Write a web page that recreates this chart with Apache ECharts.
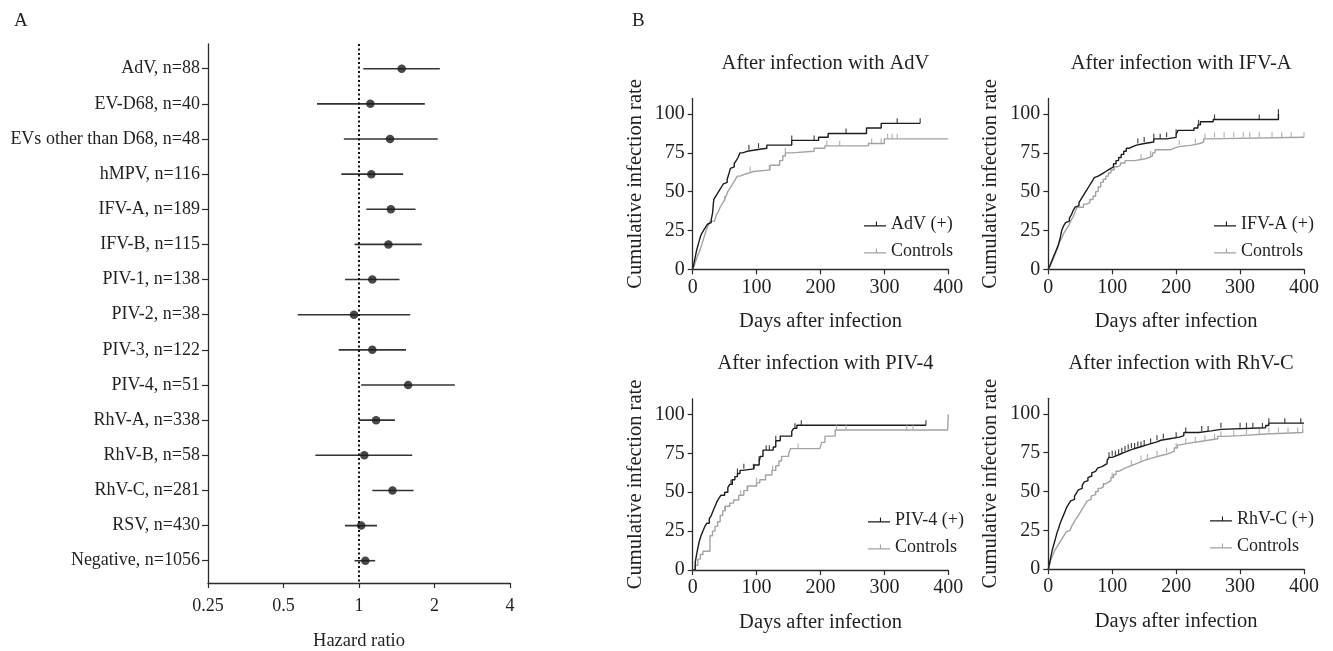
<!DOCTYPE html>
<html>
<head>
<meta charset="utf-8">
<script src="https://cdn.jsdelivr.net/npm/echarts@6/dist/echarts.min.js"></script>
<style>
html,body{margin:0;padding:0;background:#fff;}
#chart{width:1333px;height:651px;}
</style>
</head>
<body>
<div id="chart"></div>
<script>
// ---------- Panel A: forest plot data ----------
const hrCategories = ['AdV, n=88','EV-D68, n=40','EVs other than D68, n=48','hMPV, n=116','IFV-A, n=189','IFV-B, n=115','PIV-1, n=138','PIV-2, n=38','PIV-3, n=122','PIV-4, n=51','RhV-A, n=338','RhV-B, n=58','RhV-C, n=281','RSV, n=430','Negative, n=1056'];
const hrPoint = [1.48, 1.11, 1.33, 1.12, 1.34, 1.31, 1.13, 0.955, 1.13, 1.57, 1.17, 1.05, 1.36, 1.02, 1.06];
const hrLower = [1.04, 0.68, 0.87, 0.85, 1.07, 0.96, 0.88, 0.57, 0.83, 1.02, 1.00, 0.67, 1.13, 0.88, 0.96];
const hrUpper = [2.10, 1.83, 2.06, 1.50, 1.68, 1.78, 1.45, 1.60, 1.54, 2.41, 1.39, 1.63, 1.65, 1.18, 1.16];
const hrTicks = [0.25, 0.5, 1, 2, 4];

// ---------- Panel B: Kaplan-Meier style cumulative curves ----------
const kmTicksX = [0, 100, 200, 300, 400];
const kmTicksY = [0, 25, 50, 75, 100];

const advPos = [[0,0],[2,4],[4,8],[6,12],[8,15],[10,18],[12,21],[14,23],[17,25],[20,27],[23,29],[26,30],[29,32],[31,36],[33,45],[36,47],[39,49],[42,51],[45,53],[48,55],[51,56],[54,58],[57,62],[59,65],[62,66],[65,68],[68,70],[71,72],[74,75],[78,76],[85,77],[100,78],[116,80],[155,83],[197,85],[212,87.5],[272,91],[295,94],[356,94]];
const advPosCens = [88,103,155,190,240,320,356];
const advCtl = [[0,0],[3,3],[6,7],[9,10],[12,13],[15,17],[18,21],[21,25],[24,28],[27,31],[34,32],[37,35],[40,37],[43,40],[46,42],[49,44],[52,47],[55,50],[58,52],[61,54],[64,56],[67,58],[70,60],[74,61],[80,62],[88,63],[95,64],[121,67],[136,70],[141,73],[145,75],[155,76],[190,78],[207,79.5],[275,81],[300,84],[400,84]];
const advCtlCens = [50,90,120,145,210,230,280,295,305,312,320];

const ifvPos = [[0,0],[3,3],[6,6],[9,9],[12,12],[15,15],[18,19],[21,25],[24,28],[27,30],[30,31],[33,33],[36,35],[39,38],[42,40],[45,41],[48,43],[51,45],[54,47],[57,49],[60,51],[63,53],[66,55],[69,57],[72,59],[75,60],[78,61],[82,62],[86,63],[90,64],[94,65],[98,66],[102,68],[106,70],[110,72],[114,74],[118,76],[122,78],[127,79],[132,80],[138,81],[150,82],[165,84],[185,85],[200,87],[203,89.5],[228,91],[234,93],[238,95],[258,96.5],[360,100]];
const ifvPosCens = [140,150,165,175,185,200,235,260,330,360];
const ifvCtl = [[0,0],[3,2],[6,5],[9,8],[12,11],[15,14],[18,18],[21,20],[24,23],[27,25],[30,27],[33,29],[36,32],[39,34],[42,37],[45,40],[55,42],[60,43],[65,45],[70,47],[74,50],[78,53],[82,56],[86,58],[90,60],[94,62],[98,64],[103,66],[108,67],[113,68.5],[120,70],[135,71],[150,72],[158,73],[163,75],[167,77],[192,78],[197,79],[205,80],[225,81],[237,82],[243,84],[248,85],[400,85]];
const ifvCtlCens = [145,160,205,230,245,260,275,290,305,315,330,350,365,380,400];

const pivPos = [[0,0],[4,5],[7,12],[10,18],[13,22],[16,25],[19,28],[22,30],[26,33],[29,35],[32,38],[35,41],[38,44],[41,46],[44,48],[50,50],[55,53],[58,55],[62,58],[66,60],[70,62],[74,64],[78,65],[96,67.5],[104,70],[106,73],[110,77],[126,79],[130,83],[137,86],[155,89],[158,91],[163,93],[365,93]];
const pivPosCens = [60,70,80,95,104,115,120,130,160,170,365];
const pivCtl = [[0,0],[4,3],[8,7],[12,10],[16,12],[27,22],[31,25],[35,28],[39,31],[43,35],[47,38],[51,41],[58,43],[64,45],[72,48],[80,51],[86,54],[100,56],[105,58],[114,61],[124,64],[130,67],[135,70],[139,73],[150,74.5],[153,78],[199,78],[202,82],[207,86],[223,90],[399,90],[400,100]];
const pivCtlCens = [50,75,85,100,125,165,225,240,335,345];

const rhvPos = [[0,0],[2,4],[4,8],[6,12],[8,15],[10,18],[12,21],[14,24],[16,26],[18,29],[20,31],[23,34],[26,37],[29,40],[32,42],[35,44],[38,45],[41,47],[44,49],[47,51],[50,52],[53,54],[56,56],[59,57],[62,59],[65,60],[68,62],[71,63],[74,64],[77,65],[80,66],[84,67],[88,68],[92,70],[95,72],[100,73],[106,74],[112,75],[118,76],[124,77],[130,78],[138,79],[146,80],[154,81],[162,82],[170,83],[176,84],[190,85],[205,86],[212,88],[235,89],[255,90],[270,91],[340,92.5],[345,94],[400,94]];
const rhvPosCens = [95,100,105,110,115,120,125,130,135,140,145,150,160,170,180,200,215,240,250,270,300,310,320,335,345,370,395];
const rhvCtl = [[0,0],[2,3],[4,6],[6,8],[8,10],[10,12],[13,14],[16,16],[19,18],[22,20],[25,22],[28,24],[31,25],[34,26],[37,28],[40,30],[43,32],[46,34],[49,36],[52,38],[55,40],[58,42],[61,44],[64,45],[67,47],[70,48],[74,50],[78,52],[82,53],[86,55],[90,56],[94,57],[98,59],[102,61],[106,63],[110,64],[115,65],[120,66],[126,67],[132,68],[138,69],[144,70],[150,71],[158,72],[166,73],[175,74],[185,75],[192,76],[197,78],[202,80],[206,81],[218,82],[235,83],[250,84],[265,85.5],[275,86],[300,87],[340,88],[398,90]];
const rhvCtlCens = [100,130,145,155,170,185,200,215,230,245,260,270,290,310,330,345,360,375,390,398];

const panels = [
  {title:'After infection with AdV', pos:'AdV (+)', posData:advPos, posCens:advPosCens, ctlData:advCtl, ctlCens:advCtlCens},
  {title:'After infection with IFV-A', pos:'IFV-A (+)', posData:ifvPos, posCens:ifvPosCens, ctlData:ifvCtl, ctlCens:ifvCtlCens},
  {title:'After infection with PIV-4', pos:'PIV-4 (+)', posData:pivPos, posCens:pivPosCens, ctlData:pivCtl, ctlCens:pivCtlCens},
  {title:'After infection with RhV-C', pos:'RhV-C (+)', posData:rhvPos, posCens:rhvPosCens, ctlData:rhvCtl, ctlCens:rhvCtlCens}
];

// ---------- layout / style ----------
const FONT = 'Liberation Serif';
const TXT = '#231f20';
const AX = '#2b2b2b';
const BLACK = '#1c1c1c';
const GRAY = '#a3a3a3';

const kmGrids = [
  {left:692.7, top:98.5, width:255.6, height:170.8, outerBoundsMode:'none'},
  {left:1048.3, top:98.5, width:255.7, height:170.8, outerBoundsMode:'none'},
  {left:692.7, top:398.8, width:255.6, height:171.2, outerBoundsMode:'none'},
  {left:1048.3, top:398.3, width:255.7, height:170.9, outerBoundsMode:'none'}
];
const legendPos = [
  {left:864, top:215},
  {left:1214, top:215},
  {left:868, top:511},
  {left:1210, top:510}
];

function stepValue(curve, d){
  let v = curve[0][1];
  for (const p of curve){ if (p[0] <= d) v = p[1]; }
  return v;
}

const legendIcon = 'path://M0,9L24,9L24,10.2L0,10.2Z M13,5L14.2,5L14.2,9L13,9Z';

const grids = [
  {left:208, top:44, width:302, height:539, outerBoundsMode:'none'},
  {left:208, top:51.13, width:302, height:527.1, outerBoundsMode:'none'}
];
const xAxes = [
  {gridIndex:0, type:'log', logBase:2, min:0.25, max:4, position:'bottom',
   axisLine:{onZero:false, lineStyle:{color:AX, width:1.3}},
   axisTick:{length:5, lineStyle:{color:AX, width:1.2}},
   axisLabel:{fontFamily:FONT, fontSize:18, color:TXT, margin:14, formatter:v=>String(v)},
   splitLine:{show:false},
   name:'Hazard ratio', nameLocation:'middle', nameGap:49,
   nameTextStyle:{fontFamily:FONT, fontSize:18.5, color:TXT}},
  {gridIndex:1, type:'value', min:0, max:1, show:false}
];
const yAxes = [
  {gridIndex:0, type:'value', inverse:true, min:-0.703, max:14.634,
   axisLine:{show:true, onZero:false, lineStyle:{color:AX, width:1.3}},
   axisTick:{show:false}, axisLabel:{show:false}, splitLine:{show:false}},
  {gridIndex:1, type:'category', inverse:true, data:hrCategories,
   axisLine:{show:false},
   axisTick:{show:true, alignWithLabel:true, length:6, lineStyle:{color:AX, width:1.2}},
   axisLabel:{fontFamily:FONT, fontSize:18, color:TXT, margin:8},
   splitLine:{show:false}}
];

const series = [
  {type:'custom', xAxisIndex:0, yAxisIndex:0,
   data: hrCategories.map((c,i)=>[hrPoint[i], hrLower[i], hrUpper[i], i]),
   encode:{x:[0,1,2], y:3},
   renderItem:function(params, api){
     const a = api.coord([api.value(1), api.value(3)]);
     const b = api.coord([api.value(2), api.value(3)]);
     return {type:'line', shape:{x1:a[0], y1:a[1], x2:b[0], y2:b[1]},
       style:{stroke:'#333', lineWidth:1.6}};
   }, z:2, silent:true},
  {type:'scatter', xAxisIndex:0, yAxisIndex:0, name:'HR',
   data: hrPoint.map((v,i)=>[v,i]), symbol:'circle', symbolSize:8.5,
   itemStyle:{color:BLACK}, z:3, silent:true,
   markLine:{silent:true, symbol:'none', label:{show:false},
     lineStyle:{type:[2,2.5], color:'#111', width:2},
     data:[{xAxis:1}]}}
];

const titles = [
  {text:'A', left:9, top:7, textStyle:{fontFamily:FONT, fontSize:19, fontWeight:'normal', color:TXT}},
  {text:'B', left:627, top:7, textStyle:{fontFamily:FONT, fontSize:19, fontWeight:'normal', color:TXT}}
];
const legends = [];

panels.forEach((p, k)=>{
  const g = kmGrids[k];
  const gi = grids.length;
  grids.push(g);
  xAxes.push({gridIndex:gi, type:'value', min:0, max:400, interval:100,
    axisLine:{lineStyle:{color:AX, width:1.3}},
    axisTick:{length:5, lineStyle:{color:AX, width:1.2}},
    axisLabel:{fontFamily:FONT, fontSize:20, color:TXT, margin:8, customValues:kmTicksX},
    splitLine:{show:false},
    name:'Days after infection', nameLocation:'middle', nameGap:42,
    nameTextStyle:{fontFamily:FONT, fontSize:20.5, color:TXT}});
  yAxes.push({gridIndex:gi, type:'value', min:0, max:110,
    axisLine:{show:true, lineStyle:{color:AX, width:1.3}},
    axisTick:{show:true, length:5, lineStyle:{color:AX, width:1.2}, customValues:kmTicksY},
    axisLabel:{fontFamily:FONT, fontSize:20, color:TXT, margin:8, customValues:kmTicksY},
    splitLine:{show:false},
    name:'Cumulative infection rate', nameLocation:'middle', nameGap:47,
    nameTextStyle:{fontFamily:FONT, fontSize:20.5, color:TXT}});
  titles.push({text:p.title, left:g.left + g.width/2, top:g.top - 50.5, textAlign:'center',
    textStyle:{fontFamily:FONT, fontSize:20.5, fontWeight:'normal', color:TXT}});
  legends.push({orient:'vertical', left:legendPos[k].left, top:legendPos[k].top,
    itemWidth:22, itemHeight:12, itemGap:9, padding:0, selectedMode:false,
    textStyle:{fontFamily:FONT, fontSize:18, color:TXT},
    data:[{name:p.pos, icon:legendIcon}, {name:'Controls', icon:legendIcon}]});
  [[p.ctlData, p.ctlCens, GRAY, 'Controls'], [p.posData, p.posCens, BLACK, p.pos]].forEach(([curve, cens, col, nm])=>{
    series.push({type:'line', name:nm, xAxisIndex:gi, yAxisIndex:gi, data:curve,
      step:'end', showSymbol:false, symbol:'none', silent:true,
      lineStyle:{color:col, width:1.4}, itemStyle:{color:col}, z:3});
    series.push({type:'scatter', name:nm + ' censored', xAxisIndex:gi, yAxisIndex:gi,
      data:cens.map(d=>[d, stepValue(curve, d)]), symbol:'rect', symbolSize:[1.2, 5],
      symbolOffset:[0,-2.5], itemStyle:{color:col}, silent:true, z:3});
  });
});

const chart = echarts.init(document.getElementById('chart'), null, {renderer:'canvas'});
chart.setOption({
  backgroundColor:'#ffffff',
  animation:false,
  title:titles,
  legend:legends,
  grid:grids,
  xAxis:xAxes,
  yAxis:yAxes,
  series:series
});
</script>
</body>
</html>
